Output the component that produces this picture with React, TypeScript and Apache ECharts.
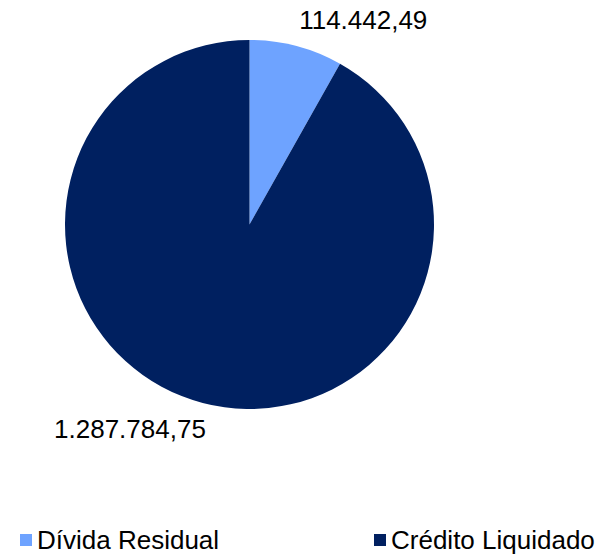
import React, { useEffect, useRef } from "react";
import * as echarts from "echarts";

const categories: string[] = ["Dívida Residual", "Crédito Liquidado"];
const values: number[] = [114442.49, 1287784.75];
const labelTexts: string[] = ["114.442,49", "1.287.784,75"];
const colors: string[] = ["#6EA3FF", "#002060"];

const FONT = "'Liberation Sans', Arial, sans-serif";

export default function App() {
  const ref = useRef<HTMLDivElement>(null);
  useEffect(() => {
    if (!ref.current) return;
    const chart = echarts.init(ref.current, undefined, { renderer: "svg" });
    chart.setOption({
      animation: false,
      backgroundColor: "#ffffff",
      textStyle: { fontFamily: FONT },
      legend: [
        {
          data: [categories[0]],
          left: 15,
          top: 522,
          icon: "rect",
          itemWidth: 12,
          itemHeight: 12,
          textStyle: { fontSize: 26, color: "#000", fontFamily: FONT },
        },
        {
          data: [categories[1]],
          left: 369,
          top: 522,
          icon: "rect",
          itemWidth: 12,
          itemHeight: 12,
          textStyle: { fontSize: 26, color: "#000", fontFamily: FONT },
        },
      ],
      series: [
        {
          type: "pie",
          center: [249.5, 224.5],
          radius: [0, 184.5],
          startAngle: 90,
          clockwise: true,
          avoidLabelOverlap: false,
          label: {
            show: true,
            position: "outside",
            fontSize: 26,
            color: "#000",
            fontFamily: FONT,
            distanceToLabelLine: 0,
            formatter: (p: any) => labelTexts[p.dataIndex],
          },
          labelLine: { show: false, length: 27, length2: 0 },
          labelLayout: (p: any) => (p.dataIndex === 1 ? { dx: 10 } : { dx: -4 }),
          emphasis: { disabled: true },
          data: categories.map((name, i) => ({
            name,
            value: values[i],
            itemStyle: { color: colors[i] },
          })),
        },
      ],
    });
    return () => chart.dispose();
  }, []);
  return (
    <div
      ref={ref}
      style={{ position: "absolute", left: 0, top: 0, width: 600, height: 555 }}
    />
  );
}
